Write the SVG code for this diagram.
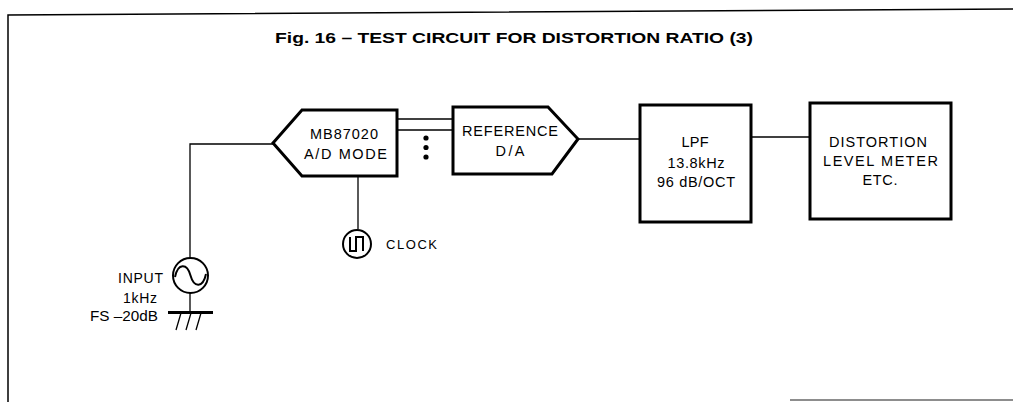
<svg xmlns="http://www.w3.org/2000/svg" width="1013" height="402" viewBox="0 0 1013 402">
<style>
.box{fill:#fff;stroke:#000;stroke-width:3;stroke-linejoin:miter}
.wire{fill:none;stroke:#000;stroke-width:1.3}
.frame{fill:none;stroke:#000;stroke-width:1.5}
.t{font-family:"Liberation Sans",Arial,sans-serif;font-size:14.5px;fill:#000;text-anchor:middle}
.s{font-family:"Liberation Sans",Arial,sans-serif;font-size:13px;fill:#000}
.title{font-family:"Liberation Sans",Arial,sans-serif;font-size:15px;font-weight:bold;fill:#000}
</style>
<rect width="1013" height="402" fill="#fff"/>
<g id="frame">
<path class="frame" d="M8 402 V15 L1013 9"/>
<path class="frame" d="M790 400 H1013" stroke-opacity="0.6"/>
</g>
<text id="title" class="title" x="275" y="43" textLength="478" lengthAdjust="spacingAndGlyphs">Fig. 16 – TEST CIRCUIT FOR DISTORTION RATIO (3)</text>
<g id="connectors">
<path class="wire" d="M273 144 H190 V258"/>
<path class="wire" d="M190 293 V312"/>
<path class="wire" d="M397 119 H453"/>
<path class="wire" d="M397 130 H453"/>
<path class="wire" d="M358 176 V229"/>
<path class="wire" d="M578 139 H640"/>
<path class="wire" d="M752 137 H810"/>
</g>
<g id="dots">
<circle cx="426" cy="138" r="2.6"/>
<circle cx="426" cy="147.5" r="2.6"/>
<circle cx="426" cy="157" r="2.6"/>
</g>
<g id="ad">
<polygon class="box" points="273,143 302,110 397,110 397,176 302,176"/>
<text class="t" x="344" y="139" textLength="68" lengthAdjust="spacing">MB87020</text>
<text class="t" x="345.5" y="159" textLength="83" lengthAdjust="spacing">A/D MODE</text>
</g>
<g id="ref">
<polygon class="box" points="453,107 548,107 578,139 552,174 453,174"/>
<text class="t" x="510" y="136" textLength="96" lengthAdjust="spacing">REFERENCE</text>
<text class="t" x="510" y="156" textLength="29" lengthAdjust="spacing">D/A</text>
</g>
<g id="lpf">
<rect class="box" x="640" y="105" width="111" height="117"/>
<text class="t" x="695" y="147" textLength="27" lengthAdjust="spacing">LPF</text>
<text class="t" x="696" y="168" textLength="57" lengthAdjust="spacing">13.8kHz</text>
<text class="t" x="696" y="187" textLength="78" lengthAdjust="spacing">96 dB/OCT</text>
</g>
<g id="meter">
<rect class="box" x="810" y="103" width="141" height="116"/>
<text class="t" x="878" y="147" textLength="98" lengthAdjust="spacing">DISTORTION</text>
<text class="t" x="880.5" y="166" textLength="115" lengthAdjust="spacing">LEVEL METER</text>
<text class="t" x="880" y="185" textLength="35" lengthAdjust="spacing">ETC.</text>
</g>
<g id="clock">
<circle cx="357" cy="244" r="14" fill="#fff" stroke="#000" stroke-width="2"/>
<path d="M350 237 V251 H356 V237 H363 V251" fill="none" stroke="#000" stroke-width="2"/>
<text class="s" x="386" y="249" textLength="51" lengthAdjust="spacing">CLOCK</text>
</g>
<g id="input">
<circle cx="190.5" cy="275.5" r="17.5" fill="#fff" stroke="#000" stroke-width="2"/>
<path d="M175 277 C178 263 187 263 190.5 275.5 C194 288 203 288 206 274" fill="none" stroke="#000" stroke-width="2"/>
<text class="s" x="163" y="283" text-anchor="end" textLength="45" lengthAdjust="spacing" style="font-size:14px">INPUT</text>
<text class="s" x="140" y="303" text-anchor="middle" textLength="34" lengthAdjust="spacing" style="font-size:14px">1kHz</text>
<text class="s" x="158" y="321" text-anchor="end" textLength="68" lengthAdjust="spacingAndGlyphs" style="font-size:14px">FS –20dB</text>
</g>
<g id="ground">
<path d="M168 312.5 H213" stroke="#000" stroke-width="3"/>
<path d="M181 313 L176 330 M191 313 L186 330 M201 313 L196 330" stroke="#000" stroke-width="1.3"/>
</g>
</svg>
